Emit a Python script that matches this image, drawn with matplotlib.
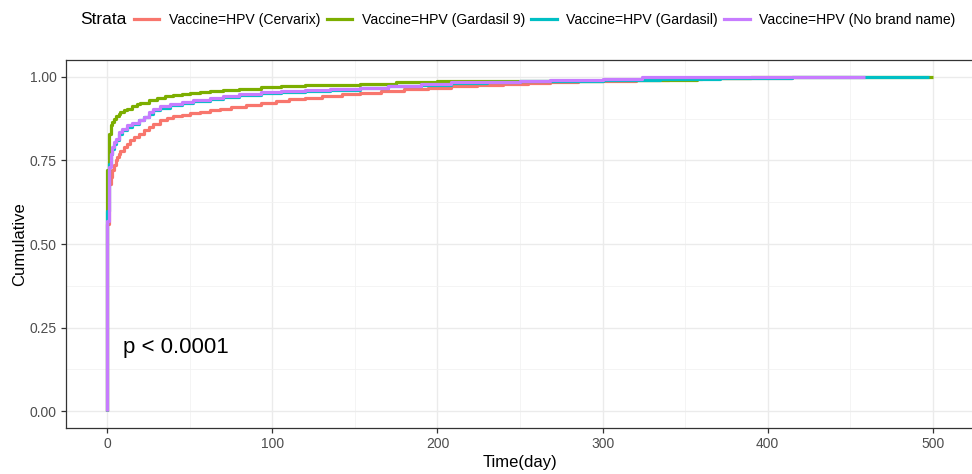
import matplotlib
matplotlib.use("Agg")
import matplotlib.pyplot as plt
from matplotlib.lines import Line2D

plt.rcParams['font.family'] = ['Liberation Sans', 'DejaVu Sans']

# ---- data ----
strata = ["Vaccine=HPV (Cervarix)", "Vaccine=HPV (Gardasil 9)",
          "Vaccine=HPV (Gardasil)", "Vaccine=HPV (No brand name)"]
colors = ["#F8766D", "#7CAE00", "#00BFC4", "#C77CFF"]

days_cervarix = [0, 0, 1, 2, 3, 4, 5, 6, 7, 8, 10, 12, 14, 16, 19, 22, 25, 28, 32, 36,
                 40, 45, 50, 56, 62, 68, 75, 84, 93, 102, 110, 120, 130, 142, 153, 166,
                 180, 194, 208, 224, 240, 255, 268, 285, 300, 320, 340, 360, 380, 415]
cum_cervarix = [0, 0.56, 0.68, 0.70, 0.72, 0.735, 0.75, 0.76, 0.77, 0.778, 0.79, 0.80,
                0.81, 0.82, 0.83, 0.84, 0.85, 0.86, 0.87, 0.876, 0.882, 0.887, 0.892,
                0.896, 0.90, 0.905, 0.91, 0.916, 0.922, 0.927, 0.932, 0.937, 0.942,
                0.947, 0.952, 0.957, 0.962, 0.967, 0.972, 0.976, 0.979, 0.982, 0.984,
                0.986, 0.988, 0.991, 0.993, 0.995, 0.997, 1.0]

days_gardasil9 = [0, 0, 1, 2, 3, 4, 5, 7, 8, 10, 12, 15, 18, 20, 25, 30, 35, 40, 45,
                  50, 56, 62, 70, 80, 93, 105, 120, 135, 153, 175, 200, 225, 250, 275,
                  300, 330, 357, 390, 430, 500]
cum_gardasil9 = [0, 0.72, 0.83, 0.855, 0.865, 0.875, 0.882, 0.89, 0.895, 0.90, 0.905,
                 0.912, 0.918, 0.922, 0.93, 0.937, 0.942, 0.946, 0.949, 0.952, 0.955,
                 0.958, 0.961, 0.964, 0.968, 0.971, 0.974, 0.976, 0.979, 0.983, 0.986,
                 0.987, 0.988, 0.988, 0.989, 0.989, 0.996, 0.998, 1.0, 1.0]

days_gardasil = [0, 0, 1, 2, 3, 4, 5, 7, 9, 12, 15, 19, 22, 25, 28, 32, 38, 45, 52, 62,
                 70, 80, 93, 105, 120, 135, 153, 170, 190, 208, 230, 250, 268, 300, 335,
                 371, 415, 498]
cum_gardasil = [0, 0.60, 0.74, 0.77, 0.785, 0.80, 0.81, 0.83, 0.84, 0.85, 0.86, 0.87,
                0.88, 0.89, 0.90, 0.908, 0.915, 0.922, 0.928, 0.934, 0.94, 0.945, 0.951,
                0.955, 0.958, 0.961, 0.965, 0.971, 0.976, 0.981, 0.984, 0.986, 0.988,
                0.991, 0.993, 0.995, 1.0, 1.0]

days_nobrand = [0, 0, 1, 2, 3, 4, 5, 7, 9, 12, 15, 19, 22, 25, 28, 32, 38, 45, 52, 62,
                70, 80, 93, 105, 120, 135, 153, 170, 190, 208, 230, 250, 268, 300, 324,
                373, 459]
cum_nobrand = [0, 0.57, 0.73, 0.77, 0.79, 0.805, 0.815, 0.835, 0.845, 0.855, 0.863,
               0.872, 0.88, 0.895, 0.903, 0.912, 0.919, 0.925, 0.931, 0.937, 0.942,
               0.947, 0.953, 0.957, 0.960, 0.963, 0.967, 0.973, 0.978, 0.983, 0.985,
               0.987, 0.989, 0.994, 0.999, 1.0, 1.0]

series_days = [days_cervarix, days_gardasil9, days_gardasil, days_nobrand]
series_cum = [cum_cervarix, cum_gardasil9, cum_gardasil, cum_nobrand]

x_ticks = [0, 100, 200, 300, 400, 500]
y_ticks = [0.00, 0.25, 0.50, 0.75, 1.00]
y_ticklabels = ["0.00", "0.25", "0.50", "0.75", "1.00"]
pval_text = "p < 0.0001"

# ---- figure ----
W, H = 972, 474
fig = plt.figure(figsize=(W / 100, H / 100), dpi=100)
ax = fig.add_axes([66 / W, (H - 428) / H, 908 / W, 368 / H])

for d, c, col in zip(series_days, series_cum, colors):
    ax.plot(d, c, drawstyle="steps-post", color=col, lw=2.3, solid_capstyle="butt")

ax.set_xlim(-25, 525)
ax.set_ylim(-0.05, 1.05)
ax.set_xticks(x_ticks)
ax.set_xticks([50, 150, 250, 350, 450], minor=True)
ax.set_yticks(y_ticks)
ax.set_yticklabels(y_ticklabels)
ax.set_yticks([0.125, 0.375, 0.625, 0.875], minor=True)

ax.grid(which="major", color="#EBEBEB", lw=1.0)
ax.grid(which="minor", color="#F2F2F2", lw=0.6)
ax.set_axisbelow(True)

for s in ax.spines.values():
    s.set_color("#333333")
    s.set_linewidth(0.9)

ax.tick_params(which="major", direction="out", length=3.5, width=0.9,
               color="#333333", labelcolor="#4D4D4D", labelsize=10, pad=3)
ax.tick_params(which="minor", length=0)

ax.set_xlabel("Time(day)", fontsize=12, color="black", labelpad=3)
ax.set_ylabel("Cumulative", fontsize=12, color="black", labelpad=2)

ax.text(9.5, 0.19, pval_text, fontsize=16, ha="left", va="center", color="black")

# legend at top
fig.text(80 / W, 1 - 20 / H, "Strata", fontsize=12.5, ha="left", va="center")
handles = [Line2D([], [], color=col, lw=2.3) for col in colors]
fig.legend(handles, strata, loc="center left", bbox_to_anchor=(134 / W, 1 - 20 / H),
           ncol=4, frameon=False, fontsize=10.1, handlelength=1.8,
           handletextpad=0.7, columnspacing=0.45, borderaxespad=0, borderpad=0)

fig.savefig("out.png", dpi=100)
